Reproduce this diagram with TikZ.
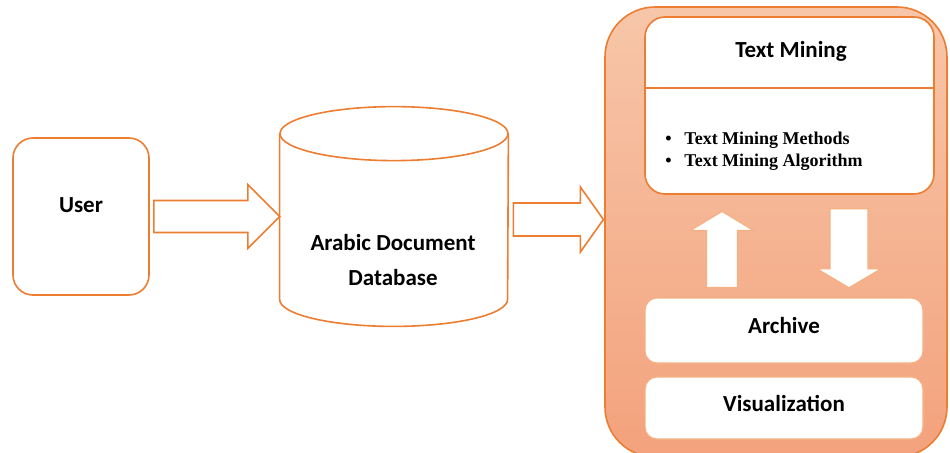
\documentclass[tikz,border=0pt]{standalone}
\usepackage{fontspec}
\setmainfont{Carlito}
\newfontfamily\listfont{Liberation Serif}
\usetikzlibrary{calc}

\definecolor{accent}{HTML}{ED7D31}
\definecolor{peachtop}{HTML}{F7C6A9}
\definecolor{peachbot}{HTML}{F3A27C}
\definecolor{softline}{HTML}{F4B183}

% block arrow pointing along +x: {length}{half shaft}{half head}{head length}
\tikzset{
  pics/fatarrow/.style n args={4}{code={
    \draw[pic actions] (0,-#2) -- (#1-#4,-#2) -- (#1-#4,-#3) -- (#1,0)
      -- (#1-#4,#3) -- (#1-#4,#2) -- (0,#2) -- cycle;
  }}
}

\begin{document}
\begin{tikzpicture}
        [x=0.5pt,y=-0.5pt,
        every node/.style={font=\bfseries\fontsize{11.5}{14}\selectfont,inner sep=0pt},
        box/.style={draw=accent,line width=0.8pt,fill=white,rectangle,rounded corners=10pt},
        inbox/.style={draw=softline,line width=0.6pt,fill=white,rectangle,rounded corners=6pt,
          minimum width=139pt,text depth=5pt},
        panel/.style={draw=accent,line width=0.8pt,rectangle,rounded corners=25pt,
          top color=peachtop,bottom color=peachbot},
        outarrow/.style={draw=accent,line width=0.8pt,fill=white},
        inarrow/.style={draw=softline,line width=0.6pt,fill=white}]
        \useasboundingbox (0,0) rectangle (950,452);

        % user
        \node[box,minimum width=68pt,minimum height=78.5pt,text depth=11.5pt] (user) at (81,216.5) {User};

        % database cylinder
        \node[minimum width=114pt,minimum height=109.5pt] (db) at (394,216.5) {};
        \draw[outarrow] ($(db.north west)+(0,27)$) -- ($(db.south west)+(0,-27)$)
          arc[start angle=180,end angle=0,x radius=114,y radius=27]
          -- ($(db.north east)+(0,27)$);
        \draw[outarrow] ($(db.north)+(0,27)$) ellipse[x radius=114,y radius=27];
        \node[align=center,font=\bfseries\fontsize{11.5}{17.5}\selectfont] (dbtext)
          at ($(db.center)+(-1,44)$) {Arabic Document\\Database};

        % mining panel
        \node[panel,minimum width=171pt,minimum height=225pt] (panel) at (776,232) {};
        \node[box,minimum width=144.5pt,minimum height=88.5pt] (mining) at (789.5,105.5) {};
        \draw[accent,line width=0.8pt] (mining.west |- 0,88) -- (mining.east |- 0,88);
        \node (miningtitle) at (791,51) {Text Mining};
        \node[anchor=west,align=left,font=\listfont\bfseries\fontsize{9}{11}\selectfont] (methods)
          at (665,151) {\makebox[9.5pt][l]{\textbullet}Text Mining Methods\\
                        \makebox[9.5pt][l]{\textbullet}Text Mining Algorithm};
        \node[inbox,minimum height=32.5pt] (archive) at (784,330.5) {Archive};
        \node[inbox,minimum height=31pt] (visual) at (784,408) {Visualization};

        % arrows
        \pic[outarrow] at ($(user.east)+(4,0)$) {fatarrow={126}{16}{32}{32}};
        \pic[outarrow] at ($(db.east)+(5,3)$) {fatarrow={90}{16.5}{32.5}{23}};
        \pic[inarrow,rotate=90] at ($(archive.north)+(-62,-10)$) {fatarrow={76}{15.5}{31.5}{19}};
        \pic[inarrow,rotate=-90] at ($(mining.south)+(59.5,14)$) {fatarrow={79}{19}{32}{19}};
        \end{tikzpicture}
\end{document}
